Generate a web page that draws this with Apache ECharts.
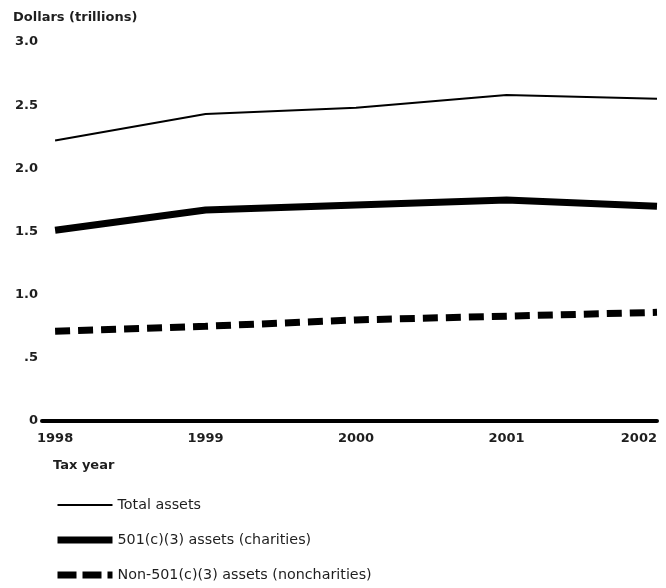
<!DOCTYPE html>
<html>
<head>
<meta charset="utf-8">
<script src="https://cdn.jsdelivr.net/npm/echarts@6/dist/echarts.min.js"></script>
<style>
html,body{margin:0;padding:0;background:#fff;}
#c{width:666px;height:588px;}
</style>
</head>
<body>
<div id="c"></div>
<script>
const years = [1998, 1999, 2000, 2001, 2002];
const totalAssets = [2.22, 2.43, 2.48, 2.58, 2.55];
const charityAssets = [1.51, 1.67, 1.71, 1.75, 1.70];
const nonCharityAssets = [0.71, 0.75, 0.80, 0.83, 0.86];
const yTickValues = [0, 0.5, 1.0, 1.5, 2.0, 2.5, 3.0];
const yTickLabels = ['0', '.5', '1.0', '1.5', '2.0', '2.5', '3.0'];
const seriesNames = ['Total assets', '501(c)(3) assets (charities)', 'Non-501(c)(3) assets (noncharities)'];

const FONT = '"DejaVu Sans", "Liberation Sans", Arial, sans-serif';
const TXT = '#1e1e1e';
const pairs = arr => years.map((y, i) => [y, arr[i]]);

const chart = echarts.init(document.getElementById('c'), null, {renderer: 'canvas'});
chart.setOption({
  backgroundColor: '#fff',
  animation: false,
  title: {
    text: 'Dollars (trillions)',
    left: 8, top: 6,
    textStyle: {fontFamily: FONT, fontWeight: 'bold', fontSize: 13, color: TXT}
  },
  grid: {left: 42, right: 9, top: 42, bottom: 167, containLabel: false, outerBoundsMode: 'none'},
  xAxis: {
    type: 'value',
    min: 1997.913,
    max: 2002,
    name: 'Tax year',
    nameLocation: 'start',
    nameGap: 0,
    nameTextStyle: {fontFamily: FONT, fontWeight: 'bold', fontSize: 13, color: TXT,
      align: 'left', verticalAlign: 'top', padding: [38, 0, 0, 11]},
    axisLine: {show: true, lineStyle: {color: '#000', width: 4}},
    axisTick: {show: false},
    splitLine: {show: false},
    axisLabel: {
      customValues: years,
      formatter: v => String(v),
      margin: 11,
      alignMaxLabel: 'right',
      fontFamily: FONT, fontWeight: 'bold', fontSize: 13, color: TXT
    }
  },
  yAxis: {
    type: 'value',
    min: 0, max: 3, interval: 0.5,
    axisLine: {show: false},
    axisTick: {show: false},
    splitLine: {show: false},
    axisLabel: {
      margin: 4,
      formatter: v => { const i = yTickValues.findIndex(t => Math.abs(t - v) < 1e-9); return i >= 0 ? yTickLabels[i] : ''; },
      fontFamily: FONT, fontWeight: 'bold', fontSize: 13, color: TXT
    }
  },
  legend: {
    orient: 'vertical',
    left: 54, top: 498,
    padding: 0,
    itemWidth: 55, itemHeight: 14, itemGap: 21,
    itemStyle: {opacity: 0},
    textStyle: {fontFamily: FONT, fontSize: 14.3, color: TXT},
    data: [
      {name: seriesNames[0], lineStyle: {color: '#000', width: 2, type: 'solid'}},
      {name: seriesNames[1], lineStyle: {color: '#000', width: 7, type: 'solid'}},
      {name: seriesNames[2], lineStyle: {color: '#000', width: 7, type: [19, 6]}}
    ]
  },
  series: [
    {name: seriesNames[0], type: 'line', data: pairs(totalAssets), symbol: 'none',
     lineStyle: {color: '#000', width: 2}, itemStyle: {color: '#000'}},
    {name: seriesNames[1], type: 'line', data: pairs(charityAssets), symbol: 'none',
     lineStyle: {color: '#000', width: 7}, itemStyle: {color: '#000'}},
    {name: seriesNames[2], type: 'line', data: pairs(nonCharityAssets), symbol: 'none',
     lineStyle: {color: '#000', width: 7, type: [15, 8]}, itemStyle: {color: '#000'}}
  ]
});
</script>
</body>
</html>
